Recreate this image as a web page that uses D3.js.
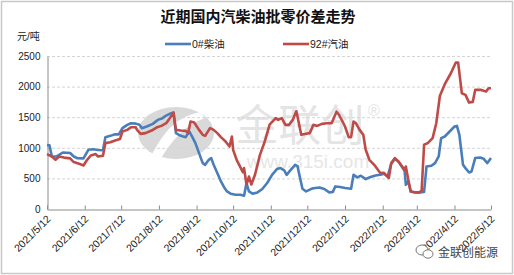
<!DOCTYPE html>
<html>
<head>
<meta charset="utf-8">
<script src="https://cdn.jsdelivr.net/npm/d3@7"></script>
<style>
	body { margin: 0; background: #fff; }
	text { font-family: 'Liberation Sans', 'Noto Sans CJK SC', sans-serif; }
</style>
</head>
<body>
<svg class="spreadChart" width="514" height="275"></svg>
<script>
// Tick labels on the time axis
var tickLabels = ['2021/5/12', '2021/6/12', '2021/7/12', '2021/8/12', '2021/9/12', '2021/10/12',
	'2021/11/12', '2021/12/12', '2022/1/12', '2022/2/12', '2022/3/12', '2022/4/12', '2022/5/12'];
var yTicks = [0, 500, 1000, 1500, 2000, 2500];

// 0#柴油 (diesel) spread
var dieselDates = ['2021/5/12', '2021/5/14', '2021/5/16', '2021/5/20', '2021/5/25', '2021/5/31', '2021/6/3', '2021/6/6',
	'2021/6/11', '2021/6/15', '2021/6/19', '2021/6/23', '2021/6/27', '2021/6/29', '2021/7/3', '2021/7/7', '2021/7/10',
	'2021/7/13', '2021/7/17', '2021/7/20', '2021/7/24', '2021/7/27', '2021/7/29', '2021/8/2', '2021/8/7', '2021/8/11',
	'2021/8/15', '2021/8/18', '2021/8/22', '2021/8/24', '2021/8/26', '2021/8/30', '2021/9/3', '2021/9/6', '2021/9/8',
	'2021/9/11', '2021/9/14', '2021/9/17', '2021/9/19', '2021/9/22', '2021/9/24', '2021/9/26', '2021/9/29', '2021/10/2',
	'2021/10/5', '2021/10/7', '2021/10/10', '2021/10/14', '2021/10/18', '2021/10/21', '2021/10/23', '2021/10/25',
	'2021/10/28', '2021/11/1', '2021/11/5', '2021/11/9', '2021/11/13', '2021/11/17', '2021/11/20', '2021/11/23',
	'2021/11/25', '2021/11/28', '2021/12/2', '2021/12/4', '2021/12/5', '2021/12/8', '2021/12/11', '2021/12/15',
	'2021/12/17', '2021/12/22', '2021/12/26', '2021/12/30', '2022/1/2', '2022/1/4', '2022/1/8', '2022/1/12', '2022/1/17',
	'2022/1/19', '2022/1/22', '2022/1/25', '2022/1/29', '2022/2/2', '2022/2/6', '2022/2/10', '2022/2/13', '2022/2/16',
	'2022/2/19', '2022/2/22', '2022/2/25', '2022/2/28', '2022/3/2', '2022/3/3', '2022/3/5', '2022/3/7', '2022/3/11',
	'2022/3/14', '2022/3/18', '2022/3/20', '2022/3/24', '2022/3/27', '2022/3/30', '2022/4/1', '2022/4/4', '2022/4/8',
	'2022/4/12', '2022/4/14', '2022/4/16', '2022/4/19', '2022/4/21', '2022/4/24', '2022/4/26', '2022/4/29', '2022/5/3',
	'2022/5/6', '2022/5/9', '2022/5/12'];
var dieselValues = [1047, 1040, 858, 860, 923, 915, 858, 830,
	827, 967, 975, 965, 960, 1174, 1195, 1220, 1220,
	1321, 1375, 1402, 1395, 1375, 1321, 1348, 1391, 1456,
	1484, 1527, 1566, 1575, 1240, 1195, 1174, 1266, 1195,
	1076, 913, 750, 722, 804, 832, 722, 587, 450,
	342, 287, 250, 233, 233, 217, 424, 287,
	250, 271, 326, 424, 559, 652, 668, 630,
	559, 630, 722, 700, 600, 330, 287, 326,
	340, 350, 326, 271, 280, 369, 360, 342, 330,
	559, 516, 543, 489, 522, 548, 559, 575, 530,
	740, 820, 770, 680, 620, 396, 450, 287, 271,
	271, 280, 695, 706, 750, 858, 1158, 1185, 1266,
	1348, 1358, 1212, 722, 668, 597, 613, 832, 842,
	820, 750, 832];

// 92#汽油 (gasoline) spread
var gasDates = ['2021/5/12', '2021/5/16', '2021/5/19', '2021/5/22', '2021/5/26', '2021/5/31', '2021/6/3', '2021/6/8',
	'2021/6/11', '2021/6/14', '2021/6/17', '2021/6/21', '2021/6/23', '2021/6/27', '2021/6/29', '2021/7/3', '2021/7/7',
	'2021/7/11', '2021/7/13', '2021/7/17', '2021/7/20', '2021/7/24', '2021/7/25', '2021/7/28', '2021/8/1', '2021/8/6',
	'2021/8/10', '2021/8/14', '2021/8/18', '2021/8/20', '2021/8/24', '2021/8/26', '2021/8/30', '2021/9/3', '2021/9/5',
	'2021/9/7', '2021/9/10', '2021/9/14', '2021/9/17', '2021/9/19', '2021/9/23', '2021/9/26', '2021/9/29', '2021/10/2',
	'2021/10/6', '2021/10/9', '2021/10/11', '2021/10/12', '2021/10/15', '2021/10/17', '2021/10/20', '2021/10/21',
	'2021/10/23', '2021/10/25', '2021/10/27', '2021/10/30', '2021/11/3', '2021/11/7', '2021/11/11', '2021/11/16',
	'2021/11/18', '2021/11/21', '2021/11/24', '2021/11/27', '2021/11/30', '2021/12/3', '2021/12/7', '2021/12/11',
	'2021/12/14', '2021/12/17', '2021/12/20', '2021/12/24', '2021/12/28', '2022/1/1', '2022/1/5', '2022/1/7', '2022/1/10',
	'2022/1/12', '2022/1/15', '2022/1/17', '2022/1/19', '2022/1/21', '2022/1/24', '2022/1/27', '2022/1/29', '2022/2/1',
	'2022/2/5', '2022/2/8', '2022/2/10', '2022/2/13', '2022/2/17', '2022/2/19', '2022/2/22', '2022/2/25', '2022/2/28',
	'2022/3/2', '2022/3/3', '2022/3/5', '2022/3/7', '2022/3/11', '2022/3/14', '2022/3/16', '2022/3/18', '2022/3/21',
	'2022/3/25', '2022/3/28', '2022/3/31', '2022/4/4', '2022/4/9', '2022/4/13', '2022/4/15', '2022/4/18', '2022/4/21',
	'2022/4/24', '2022/4/27', '2022/4/29', '2022/5/4', '2022/5/8', '2022/5/10', '2022/5/12'];
var gasValues = [897, 858, 804, 858, 840, 827, 767, 734,
	711, 804, 874, 897, 858, 870, 1076, 1090, 1119,
	1142, 1266, 1293, 1337, 1337, 1293, 1228, 1240, 1282,
	1331, 1358, 1402, 1456, 1575, 1293, 1282, 1277, 1240,
	1429, 1413, 1293, 1212, 1195, 1321, 1293, 1240, 1174,
	1100, 1021, 1185, 967, 800, 722, 600, 668,
	400, 530, 400, 560, 880, 1102, 1380, 1484,
	1456, 1484, 1375, 1375, 1456, 1600, 1212, 1230,
	1240, 1375, 1358, 1391, 1402, 1400, 1590, 1540, 1429,
	1348, 1174, 1174, 1429, 1400, 1293, 1212, 967, 804,
	722, 641, 587, 590, 505, 750, 832, 776, 695,
	641, 695, 478, 287, 271, 271, 304, 1049, 1076,
	1158, 1402, 1850, 2040, 2218, 2391, 2391, 1892, 1865,
	1739, 1750, 1946, 1946, 1920, 1973, 1973];

var dieselColor = '#4a7ebb';
var gasColor = '#be4b48';

var parseDate = d3.timeParse('%Y/%m/%d');
var svg = d3.select('.spreadChart');

// Plot area bounds
var plot = {left: 47, right: 491, top: 56, bottom: 209};

// Outer frame
svg.append('rect')
	.attr('x', 1.5).attr('y', 1.5)
	.attr('width', 511).attr('height', 272)
	.style('fill', 'none')
	.style('stroke', '#c8c8c8')
	.style('stroke-width', 1.5);

// Scales
var x = d3.scaleTime()
	.domain([parseDate(tickLabels[0]), parseDate(tickLabels[tickLabels.length - 1])])
	.range([plot.left, plot.right]);
var y = d3.scaleLinear()
	.domain([0, 2500])
	.range([plot.bottom, plot.top]);

// Watermark behind the lines
var mark = svg.append('g').attr('class', 'watermark');
mark.append('ellipse')
	.attr('cx', 176).attr('cy', 133)
	.attr('rx', 38).attr('ry', 26)
	.style('fill', '#d9d9d9');
mark.append('path')
	.attr('d', 'M150,158 C165,130 175,118 200,112 L205,118 C185,125 172,140 160,160 Z')
	.style('fill', '#fff');
mark.append('text')
	.attr('x', 300).attr('y', 141)
	.attr('text-anchor', 'middle')
	.style('font-family', 'Noto Sans CJK SC')
	.style('font-size', '43px')
	.style('fill', '#e4e4e4')
	.text('金联创');
mark.append('text')
	.attr('x', 308).attr('y', 168)
	.attr('text-anchor', 'middle')
	.style('font-size', '19px')
	.style('fill', '#e6e6e6')
	.text('www.315i.com');
mark.append('text')
	.attr('x', 374).attr('y', 116)
	.attr('text-anchor', 'middle')
	.style('font-size', '16px')
	.style('fill', '#e4e4e4')
	.text('®');

// Gridlines
svg.append('g')
	.selectAll('line')
	.data(yTicks.slice(1))
	.enter().append('line')
	.attr('x1', plot.left).attr('x2', plot.right)
	.attr('y1', function(d) { return y(d) + 0.5; })
	.attr('y2', function(d) { return y(d) + 0.5; })
	.style('stroke', '#d4d4d4')
	.style('stroke-dasharray', '3,2');

// Y axis
var yAxis = svg.append('g')
	.attr('transform', 'translate(' + (plot.left + 0.5) + ',0)')
	.call(d3.axisLeft(y).tickValues(yTicks).tickSize(0).tickPadding(7).tickFormat(d3.format('d')));
yAxis.select('.domain').style('stroke', '#8c8c8c');
yAxis.selectAll('text')
	.style('font-size', '10px')
	.style('fill', '#222');

// X axis with inward ticks
var xAxis = svg.append('g')
	.attr('transform', 'translate(0,' + (plot.bottom + 0.5) + ')')
	.call(d3.axisBottom(x)
		.tickValues(tickLabels.map(parseDate))
		.tickSize(-4)
		.tickSizeOuter(0)
		.tickFormat(function(d, i) { return tickLabels[i]; }));
xAxis.select('.domain').style('stroke', '#8c8c8c');
xAxis.selectAll('.tick line').style('stroke', '#8c8c8c');
xAxis.selectAll('text')
	.attr('y', 0).attr('dy', 0)
	.attr('transform', 'translate(4,10) rotate(-45)')
	.style('text-anchor', 'end')
	.style('font-size', '10.5px')
	.style('fill', '#222');

// Lines
var line = d3.line()
	.x(function(d) { return x(d.date); })
	.y(function(d) { return y(d.value); });

var dieselData = dieselDates.map(function(d, i) { return {date: parseDate(d), value: dieselValues[i]}; });
var gasData = gasDates.map(function(d, i) { return {date: parseDate(d), value: gasValues[i]}; });

svg.append('path')
	.datum(dieselData)
	.attr('d', line)
	.style('fill', 'none')
	.style('stroke', dieselColor)
	.style('stroke-width', 2.6)
	.style('stroke-linejoin', 'round');

svg.append('path')
	.datum(gasData)
	.attr('d', line)
	.style('fill', 'none')
	.style('stroke', gasColor)
	.style('stroke-width', 2.6)
	.style('stroke-linejoin', 'round');

// Title and unit
svg.append('text')
	.attr('x', 258).attr('y', 22)
	.attr('text-anchor', 'middle')
	.style('font-family', 'Noto Sans CJK SC')
	.style('font-size', '15px')
	.style('font-weight', 'bold')
	.style('fill', '#111')
	.text('近期国内汽柴油批零价差走势');
svg.append('text')
	.attr('x', 17).attr('y', 40)
	.style('font-size', '10px')
	.style('fill', '#222')
	.text('元/吨');

// Legend
var legend = [{name: '0#柴油', color: dieselColor, x: 165}, {name: '92#汽油', color: gasColor, x: 283}];
var lg = svg.selectAll('.legend')
	.data(legend)
	.enter().append('g')
	.attr('class', 'legend')
	.attr('transform', function(d) { return 'translate(' + d.x + ',44)'; });
lg.append('line')
	.attr('x1', 0).attr('x2', 26)
	.style('stroke', function(d) { return d.color; })
	.style('stroke-width', 2.6);
lg.append('text')
	.attr('x', 27).attr('dy', '0.35em')
	.style('font-size', '10.5px')
	.style('fill', '#222')
	.text(function(d) { return d.name; });

// Account mark, bottom right
var acct = svg.append('g').attr('transform', 'translate(425,252)');
acct.append('ellipse')
	.attr('cx', -3).attr('cy', -2).attr('rx', 6).attr('ry', 5)
	.style('fill', '#fff').style('stroke', '#777').style('stroke-width', 1);
acct.append('ellipse')
	.attr('cx', 3).attr('cy', 2).attr('rx', 5).attr('ry', 4.2)
	.style('fill', '#fff').style('stroke', '#777').style('stroke-width', 1);
acct.append('text')
	.attr('x', 13).attr('y', 5)
	.style('font-family', 'Noto Sans CJK SC')
	.style('font-size', '12px')
	.style('fill', '#444')
	.text('金联创能源');
</script>
</body>
</html>
